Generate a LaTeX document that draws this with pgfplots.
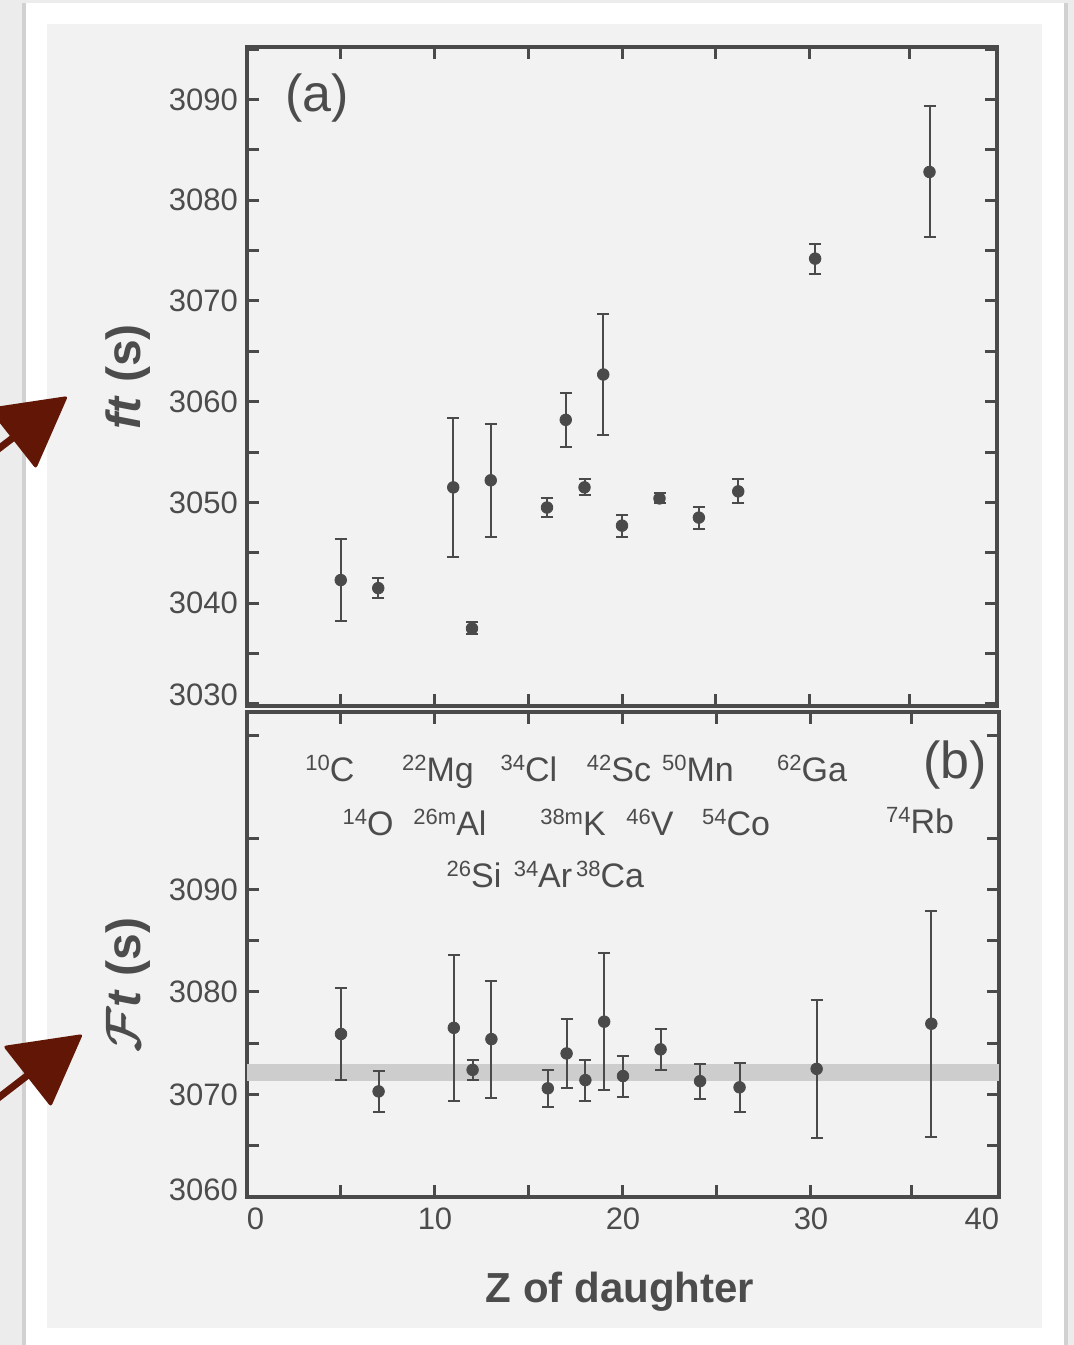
\documentclass[border=0pt]{standalone}
\usepackage{fontspec}
\setmainfont{Liberation Sans}
\usepackage{amsmath}
\usepackage{pgfplots}
\usepackage{pgfplotstable}
\pgfplotsset{compat=1.18}

\definecolor{ink}{RGB}{76,76,76}
\definecolor{frame}{RGB}{74,74,74}
\definecolor{panel}{RGB}{242,242,242}
\definecolor{outer}{RGB}{236,236,236}
\definecolor{band}{RGB}{205,205,205}
\definecolor{arrowred}{RGB}{98,22,6}

% ft values (top) and corrected Ft values (bottom), Z of daughter
\pgfplotstableread{
z v e
5    3042.3 4.1
7    3041.5 1.0
11   3051.5 6.9
12   3037.5 0.6
13   3052.2 5.6
16   3049.5 0.9
17   3058.2 2.7
18   3051.5 0.8
19   3062.7 6.0
20   3047.7 1.1
22   3050.4 0.5
24.1 3048.5 1.1
26.2 3051.1 1.2
30.3 3074.2 1.5
36.4 3082.8 6.5
}\ftdata

\pgfplotstableread{
z v e
5    3075.9 4.5
7    3070.3 2.0
11   3076.5 7.1
12   3072.4 1.0
13   3075.4 5.7
16   3070.6 1.8
17   3074.0 3.4
18   3071.4 2.0
19   3077.1 6.7
20   3071.8 2.0
22   3074.4 2.0
24.1 3071.3 1.7
26.2 3070.7 2.4
30.3 3072.5 6.7
36.4 3076.9 11.0
}\Ftdata

\pgfplotsset{
  panelaxis/.style={
    scale only axis, xmin=0, xmax=40,
    axis line style={frame, line width=2pt},
    every tick/.style={frame, line width=1.5pt},
    major tick length=6pt, minor tick length=6pt,
    tick align=inside,
    xtick={0,10,...,40}, minor xtick={5,15,25,35.35},
    tick label style={font=\fontsize{15.5}{18}\selectfont, text=ink},
    /pgf/number format/assume math mode=true,
    /pgf/number format/1000 sep={},
    yticklabel style={xshift=-1pt},
  },
  ptstyle/.style={
    only marks, mark=*, mark size=2.9pt,
    mark options={draw=frame, fill=frame},
    error bars/.cd, y dir=both, y explicit,
    error bar style={line width=1pt, frame},
    error mark options={line width=1pt, mark size=3pt, frame, rotate=90},
  },
}

\newcommand\iso[2]{\raisebox{5.5pt}{\fontsize{11}{12}\selectfont #1}#2}

\begin{document}
\begin{tikzpicture}[x=0.5pt, y=-0.5pt]
\useasboundingbox (0,0) rectangle (1074,1345);
\fill[outer] (0,0) rectangle (1074,1345);
\fill[black!18] (22,3) rectangle (27,1345);
\fill[black!18] (1063,3) rectangle (1068,1345);
\fill[white] (26,3) rectangle (1064,1345);
\fill[panel] (47,24) rectangle (1042,1328);

% top panel: ft
\begin{axis}[panelaxis,
    at={(123.5pt,-353pt)}, anchor=south west,
    width=375pt, height=329.5pt,
    ymin=3029.8, ymax=3095.2,
    ytick={3040,3050,...,3090}, minor ytick={3035,3045,...,3095},
    extra y ticks={3030}, extra y tick style={yticklabel style={yshift=4.5pt}},
    xticklabels={},
  ]
  \addplot[ptstyle] table[x=z, y=v, y error=e] {\ftdata};
\end{axis}

% bottom panel: Ft
\begin{axis}[panelaxis,
    at={(123.5pt,-598.5pt)}, anchor=south west,
    width=376pt, height=242.5pt,
    ymin=3060, ymax=3107.3,
    ytick={3070,3080,3090}, minor ytick={3065,3075,...,3105},
    extra y ticks={3060}, extra y tick style={yticklabel style={yshift=3.5pt}},
    xticklabels={\makebox[0pt][l]{0},10,20,30,\makebox[0pt][r]{40}},
    xticklabel style={yshift=-2pt},
  ]
  \addplot[draw=none, fill=band] coordinates {(0,3071.3) (40,3071.3) (40,3073.0) (0,3073.0)} -- cycle;
  \addplot[ptstyle] table[x=z, y=v, y error=e] {\Ftdata};
\end{axis}

% labels
\node[text=ink, font=\fontsize{26}{30}\selectfont] at (317,98) {(a)};
\node[text=ink, font=\fontsize{26}{30}\selectfont] at (955,765) {(b)};
\node[text=ink, font=\bfseries\fontsize{21}{25}\selectfont] at (620,1292) {Z of daughter};
\node[text=ink, rotate=90, font=\bfseries\fontsize{24}{28}\selectfont] at (128,377) {\textit{ft} (s)};
\node[text=ink, rotate=90, font=\bfseries\fontsize{24}{28}\selectfont] at (128,985) {{\boldmath$\mathcal{F}$}\textit{t} (s)};

\begin{scope}[text=ink, font=\fontsize{17}{20}\selectfont, anchor=base]
  \node at (330,781) {\iso{10}{C}};
  \node at (438,781) {\iso{22}{Mg}};
  \node at (529,781) {\iso{34}{Cl}};
  \node at (619,781) {\iso{42}{Sc}};
  \node at (698,781) {\iso{50}{Mn}};
  \node at (812,781) {\iso{62}{Ga}};
  \node at (368,835) {\iso{14}{O}};
  \node at (450,835) {\iso{26m}{Al}};
  \node at (573,835) {\iso{38m}{K}};
  \node at (650,835) {\iso{46}{V}};
  \node at (736,835) {\iso{54}{Co}};
  \node at (920,833) {\iso{74}{Rb}};
  \node at (474,887) {\iso{26}{Si}};
  \node at (543,887) {\iso{34}{Ar}};
  \node at (610,887) {\iso{38}{Ca}};
\end{scope}

% arrows at the left edge
\begin{scope}[arrowred]
  \draw[line width=3.5pt] (14,437) -- (-20,463);
  \fill[rounded corners=1.5pt] (68,396) -- (-12,408) -- (36,469) -- cycle;
  \draw[line width=3.5pt] (28,1075) -- (-20,1112);
  \fill[rounded corners=1.5pt] (83,1034) -- (3,1046) -- (51,1107) -- cycle;
\end{scope}
\end{tikzpicture}
\end{document}
